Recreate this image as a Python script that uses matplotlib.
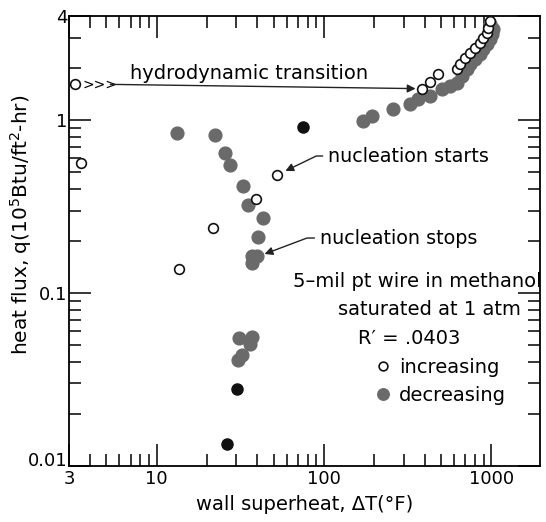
import numpy as np
import matplotlib
matplotlib.use('Agg')
import matplotlib.pyplot as plt
from matplotlib.ticker import LogLocator, NullFormatter, FixedLocator, FixedFormatter

plt.rcParams['font.family'] = ['DejaVu Sans']
plt.rcParams['mathtext.default'] = 'regular'

# increasing heat flux (open circles)
inc_x = [3.27, 3.56, 13.7, 21.6, 39.2, 52.3, 386, 431, 482, 626, 652, 699, 748, 802, 859, 896, 946, 960, 986]
inc_y = [1.61, 0.564, 0.138, 0.238, 0.349, 0.481, 1.51, 1.66, 1.85, 1.97, 2.11, 2.28, 2.44, 2.61, 2.79, 2.98, 3.18, 3.40, 3.73]

# decreasing heat flux (grey dots)
dec_x = [13.2, 22.2, 25.5, 27.4, 32.7, 35.1, 43.1, 40.3, 39.7, 37.1, 37.1,
         31.1, 37.4, 36.1, 32.6, 30.7,
         171, 194, 259, 327, 366, 431, 509, 568, 626, 670, 718, 748, 802, 859, 896, 946, 986, 1014, 1028, 986]
dec_y = [0.841, 0.819, 0.644, 0.549, 0.415, 0.323, 0.271, 0.211, 0.164, 0.149, 0.164,
         0.0547, 0.0557, 0.0506, 0.0438, 0.0408,
         0.987, 1.055, 1.158, 1.237, 1.32, 1.38, 1.51, 1.57, 1.64, 1.80, 1.97, 2.11, 2.25, 2.41, 2.57, 2.75, 2.94, 3.14, 3.36, 3.59]

# darker points
blk_x = [74.8, 30.1, 26.3]
blk_y = [0.911, 0.0279, 0.0134]

xticks = [3, 10, 100, 1000]
xlabels = ['3', '10', '100', '1000']
yticks = [0.01, 0.1, 1, 4]
ylabels = ['0.01', '0.1', '1', '4']

fs = 14

fig = plt.figure(figsize=(5.46, 5.22), dpi=100)
ax = fig.add_axes([0.1264, 0.1073, 0.8626, 0.8621])
ax.set_xscale('log')
ax.set_yscale('log')
ax.set_xlim(3, 1950)
ax.set_ylim(0.01, 4)

ax.plot(dec_x, dec_y, 'o', ms=9.2, color='#6a6a6a', mec='#6a6a6a', label='decreasing', zorder=3)
ax.plot(blk_x, blk_y, 'o', ms=8, color='#111111', zorder=3)
ax.plot(inc_x, inc_y, 'o', ms=7, mfc='white', mec='#111111', mew=1.2, label='increasing', zorder=4)

ax.xaxis.set_major_locator(FixedLocator(xticks))
ax.xaxis.set_major_formatter(FixedFormatter(xlabels))
ax.yaxis.set_major_locator(FixedLocator(yticks))
ax.yaxis.set_major_formatter(FixedFormatter(ylabels))
ax.xaxis.set_minor_locator(LogLocator(base=10, subs=np.arange(2, 10)))
ax.yaxis.set_minor_locator(LogLocator(base=10, subs=np.arange(2, 10)))
ax.xaxis.set_minor_formatter(NullFormatter())
ax.yaxis.set_minor_formatter(NullFormatter())
ax.tick_params(which='both', direction='in', top=True, right=True, width=1.1, labelsize=13)
ax.tick_params(which='major', length=16)
ax.tick_params(which='minor', length=8.5)
ax.tick_params(axis='y', pad=1)
ax.tick_params(axis='x', pad=3)
for s in ax.spines.values():
    s.set_linewidth(1.3)

# lift the 0.01 label so it clears the "3" below it
ax.yaxis.get_major_ticks()[0].label1.set_verticalalignment('baseline')

ax.set_xlabel('wall superheat, ΔT(°F)', fontsize=fs, labelpad=5)
ax.set_ylabel('heat flux, q(10$^{5}$Btu/ft$^{2}$-hr)', fontsize=14.5)
ax.yaxis.set_label_coords(-0.074, 0.536)

# hydrodynamic transition arrow
ax.text(3.6, 1.61, '>>>', fontsize=10, ha='left', va='center')
ax.annotate('', xy=(366, 1.52), xytext=(5.1, 1.61),
            arrowprops=dict(arrowstyle='-|>', lw=1, color='#222222', mutation_scale=12))
ax.text(6.9, 1.87, 'hydrodynamic transition', fontsize=fs, ha='left', va='center')

ax.annotate('nucleation starts', xy=(56.8, 0.50), xytext=(106, 0.62), fontsize=13.8, va='center',
            arrowprops=dict(arrowstyle='-|>', lw=1, color='#222222', mutation_scale=12,
                            relpos=(0, 0.5), connectionstyle='arc,angleA=180,armA=12,angleB=0,armB=0,rad=0'))
ax.annotate('nucleation stops', xy=(42.6, 0.166), xytext=(94.6, 0.208), fontsize=13.8, va='center',
            arrowprops=dict(arrowstyle='-|>', lw=1, color='#222222', mutation_scale=12,
                            relpos=(0, 0.5), connectionstyle='arc,angleA=180,armA=13,angleB=0,armB=0,rad=0'))

ax.text(0.476, 0.409, '5–mil pt wire in methanol', transform=ax.transAxes, fontsize=fs, ha='left', va='center')
ax.text(0.571, 0.347, 'saturated at 1 atm', transform=ax.transAxes, fontsize=fs, ha='left', va='center')
ax.text(0.614, 0.284, 'R′ = .0403', transform=ax.transAxes, fontsize=fs, ha='left', va='center')

h, l = ax.get_legend_handles_labels()
ax.legend(h[::-1], l[::-1], loc='upper left', bbox_to_anchor=(0.645, 0.240), frameon=False,
          fontsize=fs, handlelength=1.0, handletextpad=0.35, labelspacing=0.45,
          borderpad=0, borderaxespad=0, markerscale=0.9)

fig.savefig('out.png', dpi=100)
